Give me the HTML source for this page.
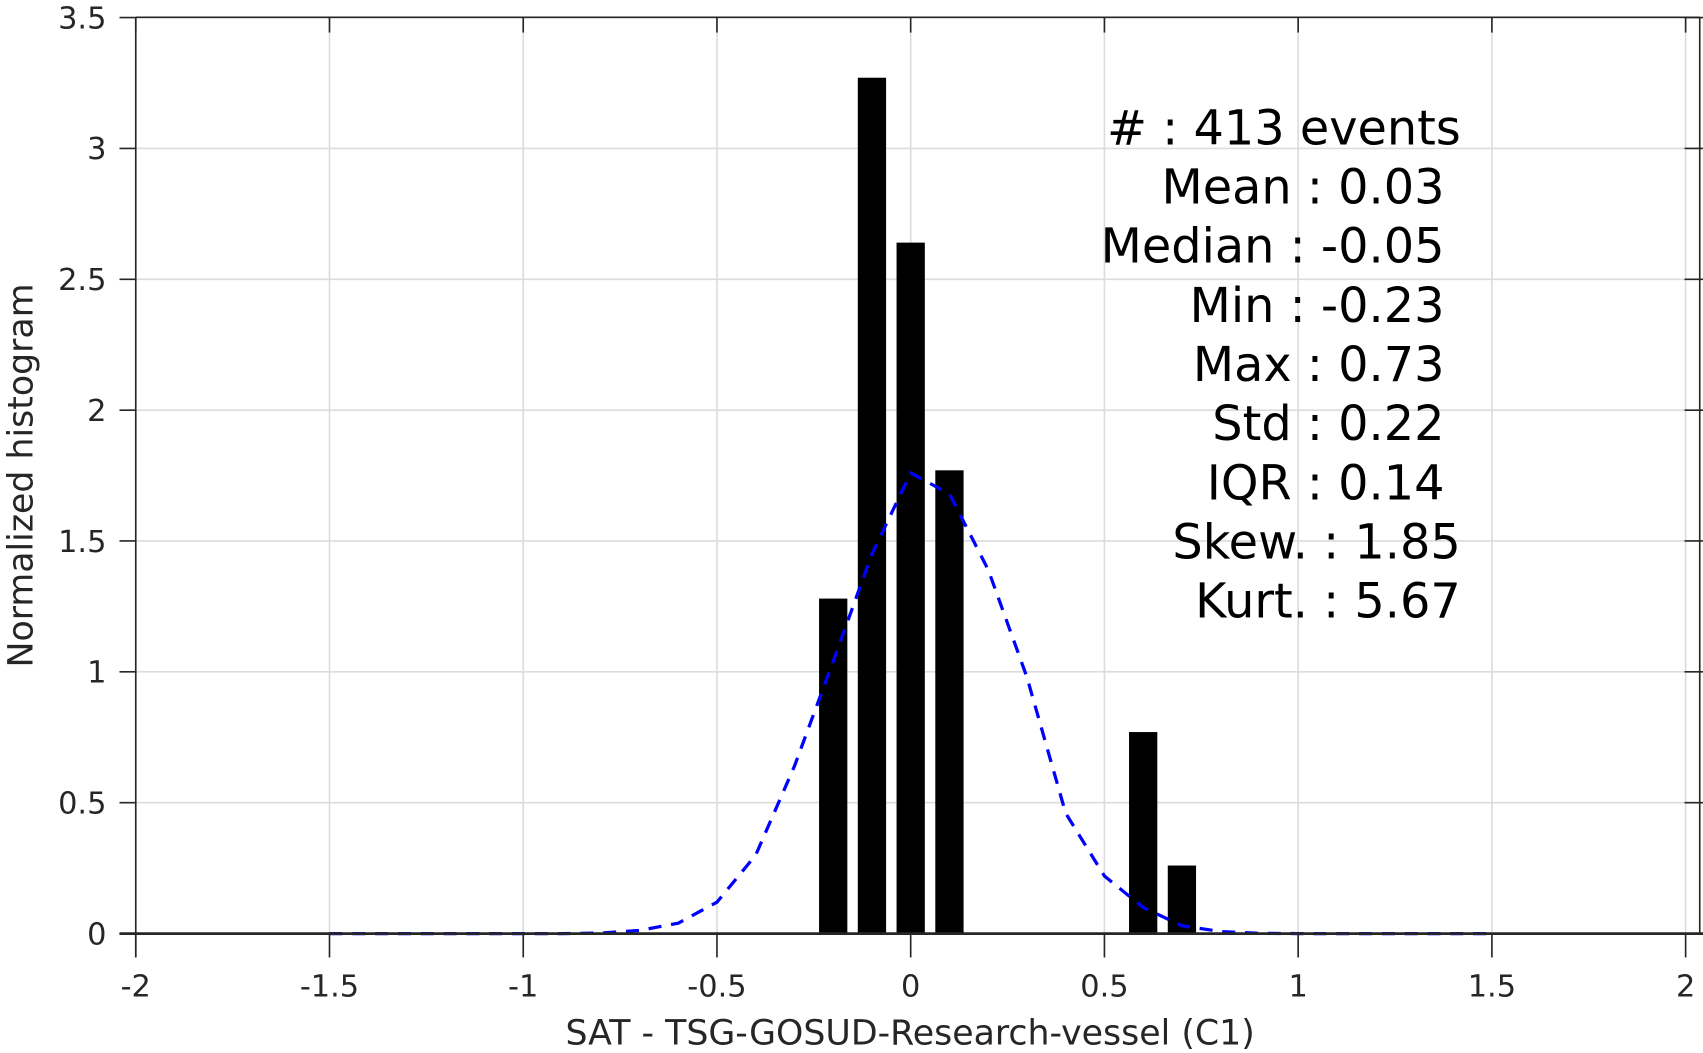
<!DOCTYPE html>
<html><head><meta charset="utf-8"><style>
html,body{margin:0;padding:0;background:#fff;}
svg{display:block;font-family:"DejaVu Sans","Liberation Sans",sans-serif;}
</style></head><body>
<svg id="chart" width="1703" height="1053" viewBox="0 0 1568 970" preserveAspectRatio="none" xmlns="http://www.w3.org/2000/svg">
<g id="grid"></g>
<g id="bars"></g>
<path id="fit" fill="none" stroke="#0000ff" stroke-width="3" stroke-dasharray="12,9"/>
<g id="axes"></g>
<g id="stats" font-size="44" fill="#000" text-anchor="end"></g>
<text x="838" y="962" font-size="32" fill="#262626" text-anchor="middle">SAT - TSG-GOSUD-Research-vessel (C1)</text>
<text transform="translate(30,438) rotate(-90)" font-size="32" fill="#262626" text-anchor="middle">Normalized histogram</text>
</svg>
<script>
const binCenters=[-0.2,-0.1,0,0.1,0.6,0.7];
const binValues=[1.28,3.27,2.64,1.77,0.77,0.26];
const fitX=[-1.5,-1.4,-1.3,-1.2,-1.1,-1.0,-0.9,-0.8,-0.7,-0.6,-0.5,-0.4,-0.3,-0.2,-0.1,0,0.1,0.2,0.3,0.4,0.5,0.6,0.7,0.8,0.9,1.0,1.1,1.2,1.3,1.4,1.5];
const fitY=[0,0,0,0,0,0,0,0.002,0.012,0.04,0.12,0.30,0.64,1.04,1.45,1.76,1.68,1.39,0.98,0.46,0.22,0.10,0.03,0.008,0.001,0,0,0,0,0,0];
const xTicks=[-2,-1.5,-1,-0.5,0,0.5,1,1.5,2];
const yTicks=[0,0.5,1,1.5,2,2.5,3,3.5];
const statLines=["#  : 413 events","Mean : 0.03","Median : -0.05","Min : -0.23","Max : 0.73","Std : 0.22","IQR : 0.14","Skew. : 1.85","Kurt. : 5.67"];
const statRight=[1345,1330,1330,1330,1330,1330,1330,1345,1345];

const NS="http://www.w3.org/2000/svg";
const X=v=>838.5+v*356.75;
const Y=v=>860-v*241.1;
function mk(tag,attrs,parent){const e=document.createElementNS(NS,tag);for(const k in attrs)e.setAttribute(k,attrs[k]);parent.appendChild(e);return e;}
const grid=document.getElementById('grid'),axes=document.getElementById('axes'),bars=document.getElementById('bars'),stats=document.getElementById('stats');
xTicks.forEach(t=>{
 const g=mk('line',{x1:X(t),x2:X(t),y1:16,y2:860,stroke:'#dcdcdc','stroke-width':1.5},grid);
 
 const tk=mk('line',{x1:X(t),x2:X(t),y1:860,y2:882,stroke:'#262626','stroke-width':1.5},axes);
 
 const tt=mk('line',{x1:X(t),x2:X(t),y1:16,y2:30,stroke:'#262626','stroke-width':1.5},axes);
 
 const lb=mk('text',{x:X(t),y:918,'font-size':28,fill:'#262626','text-anchor':'middle'},axes);
 lb.textContent=String(t);
 
});
yTicks.forEach(t=>{
 const g=mk('line',{x1:125,x2:1565,y1:Y(t),y2:Y(t),stroke:'#dcdcdc','stroke-width':1.5},grid);
 
 const tk=mk('line',{x1:110,x2:125,y1:Y(t),y2:Y(t),stroke:'#262626','stroke-width':1.5},axes);
 
 const tr=mk('line',{x1:1551,x2:1568,y1:Y(t),y2:Y(t),stroke:'#262626','stroke-width':1.5},axes);
 
 const lb=mk('text',{x:98,y:Y(t)+10,'font-size':28,fill:'#262626','text-anchor':'end'},axes);
 lb.textContent=String(t);
 
});
binCenters.forEach((c,i)=>{
 const w=0.073*356.75;
 const r=mk('rect',{x:X(c)-w/2,y:Y(binValues[i]),width:w,height:Y(0)-Y(binValues[i]),fill:'#000'},bars);
 
});
document.getElementById('fit').setAttribute('d',fitX.map((x,i)=>(i?'L':'M')+X(x).toFixed(1)+','+Y(fitY[i]).toFixed(1)).join(''));
[[125,16,125,882],[125,16,1565,16],[1565,16,1565,860],[110,860,1568,860]].forEach((l,i)=>{
 const e=mk('line',{x1:l[0],y1:l[1],x2:l[2],y2:l[3],stroke:'#262626','stroke-width':i==3?2.5:1.5},axes);
 
});
statLines.forEach((s,i)=>{
 const t=mk('text',{x:statRight[i],y:133+i*54.5},stats);
 t.textContent=s;
 
});
</script>
</body></html>
